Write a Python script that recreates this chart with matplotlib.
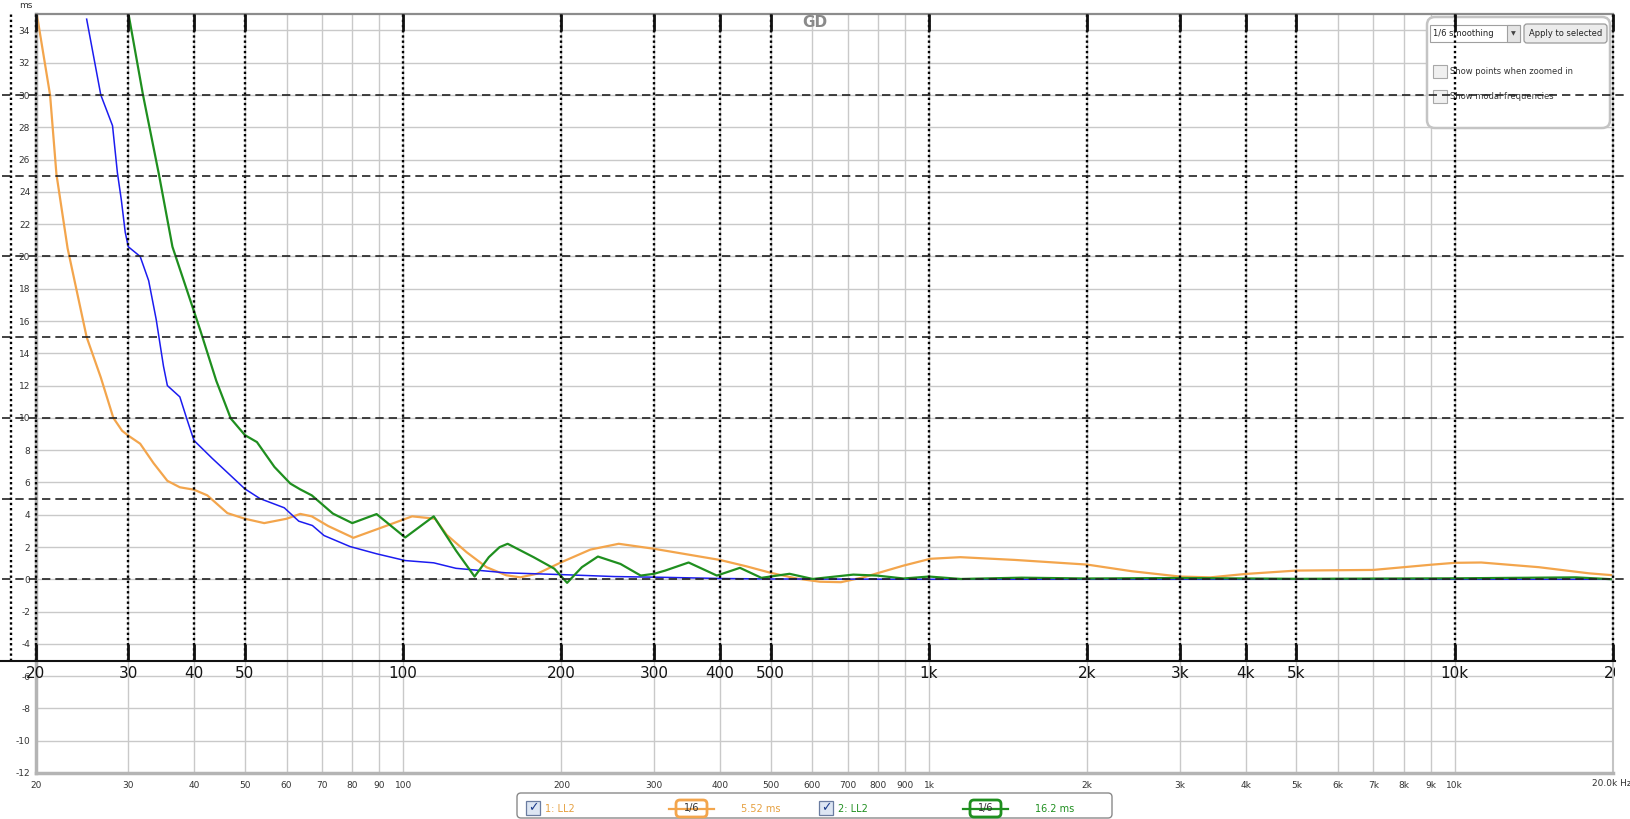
import numpy as np
import matplotlib.pyplot as plt
from matplotlib.patches import FancyBboxPatch, Rectangle
from matplotlib.transforms import Affine2D, Bbox
from matplotlib.ticker import NullLocator

# ---- data (frequency in Hz, group delay in ms) ----
orange_f = [20, 20.1, 21.3, 21.9, 23.0, 25.0, 26.6, 28.1, 29.2, 30.0, 31.6, 33.5, 35.6, 37.6,
            40, 42.4, 46.3, 50, 54.4, 60, 63.7, 67, 72, 80.4, 90, 104, 115, 121, 132, 144, 157,
            167, 180, 200, 227, 257, 300, 400, 450, 500, 560, 620, 680, 750, 895, 1006,
            1147, 1456, 2000, 2430, 3000, 3430, 4000, 5000, 7000, 9000, 10000, 11230,
            14450, 18000, 20000]
orange_ms = [36.5, 35.0, 30.0, 25.1, 20.5, 15.0, 12.5, 10.0, 9.2, 8.9, 8.4, 7.2, 6.1, 5.7,
             5.55, 5.2, 4.1, 3.75, 3.48, 3.75, 4.05, 3.9, 3.3, 2.57, 3.15, 3.9, 3.75, 2.75, 1.68, 0.75,
             0.25, 0.12, 0.35, 1.06, 1.84, 2.2, 1.89, 1.2, 0.8, 0.4, 0.05, -0.15, -0.18, 0.12, 0.85,
             1.27, 1.37, 1.2, 0.91, 0.5, 0.17, 0.12, 0.33, 0.54, 0.58, 0.9, 1.02, 1.04,
             0.75, 0.37, 0.25]

blue_f = [25.0, 26.6, 28.0, 28.6, 29.1, 29.6, 30.0, 31.6, 32.8, 33.9, 35.0, 35.6, 37.6, 38.8,
          40.0, 43.3, 50.0, 53.4, 59.4, 63.3, 67.2, 70.7, 79.2, 89.0, 100.9, 114.3, 126, 157,
          200, 252, 315, 400, 500, 1000, 2000, 5000, 10000, 20000]
blue_ms = [34.7, 30.0, 28.1, 25.2, 23.5, 21.5, 20.6, 20.0, 18.5, 16.1, 13.2, 12.0, 11.3, 9.9,
           8.6, 7.5, 5.6, 5.0, 4.43, 3.6, 3.33, 2.71, 2.03, 1.58, 1.16, 1.02, 0.68, 0.40,
           0.29, 0.17, 0.12, 0.05, 0.02, 0.0, 0.0, 0.0, 0.0, 0.0]

green_f = [30.0, 32.0, 34.3, 36.4, 41.1, 44.1, 47.0, 50.0, 52.7, 56.9, 61.0, 63.7, 67, 73.5,
           80.0, 89.0, 100.9, 114.3, 126, 136.7, 145.5, 152.5, 158, 177, 193.8, 205, 218.7,
           234.6, 259, 283, 300, 315, 349, 395, 437, 480, 543, 601, 718, 796, 895, 1000,
           1150, 1500, 2000, 3000, 5000, 10000, 17000, 20000]
green_ms = [35.1, 30.0, 25.1, 20.6, 15.45, 12.3, 9.96, 8.93, 8.5, 6.96, 5.93, 5.57, 5.2, 4.07,
            3.48, 4.04, 2.59, 3.9, 1.78, 0.17, 1.37, 1.99, 2.2, 1.37, 0.66, -0.22, 0.75,
            1.41, 0.95, 0.23, 0.34, 0.54, 1.04, 0.23, 0.71, 0.09, 0.34, 0.02, 0.29, 0.23, 0.05, 0.17,
            0.02, 0.1, 0.05, 0.08, 0.03, 0.06, 0.12, 0.0]

rew_xticks = [20, 30, 40, 50, 60, 70, 80, 90, 100, 200, 300, 400, 500, 600, 700, 800, 900,
              1000, 2000, 3000, 4000, 5000, 6000, 7000, 8000, 9000, 10000, 20000]
rew_xlabels = ["20", "30", "40", "50", "60", "70", "80", "90", "100", "200", "300", "400",
               "500", "600", "700", "800", "900", "1k", "2k", "3k", "4k", "5k", "6k", "7k",
               "8k", "9k", "10k", ""]
rew_yticks = list(range(-12, 35, 2))

ov_xticks = [20, 30, 40, 50, 100, 200, 300, 400, 500, 1000, 2000, 3000, 4000, 5000, 10000, 20000]
ov_xlabels = ["20", "30", "40", "50", "100", "200", "300", "400", "500", "1k", "2k", "3k",
              "4k", "5k", "10k", "20"]
ov_levels = [0, 5, 10, 15, 20, 25, 30]

# ---- layout (pixels, top-left origin) ----
W, H = 1630, 819
AX_L, AX_R, AX_T, AX_B = 35.7, 1613, 14.3, 773
Y_MIN, Y_MAX = -12, 35
F_MIN, F_MAX = 20, 20000
OV_L, OV_R, OV_B = 0, 1615, 661

ORANGE = "#f3a54c"
BLUE = "#1c1cf0"
GREEN = "#1f8f1f"

fig = plt.figure(figsize=(W / 100, H / 100), dpi=100, facecolor="white")
PX = Affine2D().scale(1 / W, -1 / H).translate(0, 1) + fig.transFigure

# ---- REW graph ----
ax = fig.add_axes([AX_L / W, 1 - AX_B / H, (AX_R - AX_L) / W, (AX_B - AX_T) / H])
ax.set_xscale("log")
ax.set_xlim(F_MIN, F_MAX)
ax.set_ylim(Y_MIN, Y_MAX)
ax.set_xticks(rew_xticks)
ax.set_xticklabels(rew_xlabels)
ax.xaxis.set_minor_locator(NullLocator())
ax.set_yticks(rew_yticks)
ax.set_yticklabels([str(v) for v in rew_yticks])
ax.grid(True, color="#c9c9c9", lw=1)
ax.set_axisbelow(True)
ax.tick_params(length=0, labelsize=6.5, labelcolor="#333333")
ax.tick_params(axis="y", pad=4)
ax.tick_params(axis="x", pad=6)
ax.spines["left"].set(color="#b4b4b4", lw=2.5)
ax.spines["bottom"].set(color="#b4b4b4", lw=2.5)
ax.spines["top"].set(color="#8c8c8c", lw=1.6)
ax.spines["right"].set(color="#c4c4c4", lw=1.5)
ax.annotate("20.0k Hz", xy=(F_MAX, 0), xycoords=("data", "axes fraction"),
            xytext=(-21, -10), textcoords="offset pixels", ha="left", va="center",
            fontsize=6.5, color="#333333", annotation_clip=False)

ax.plot(orange_f, orange_ms, color=ORANGE, lw=1.6, solid_joinstyle="round")
ax.plot(blue_f, blue_ms, color=BLUE, lw=1.1, solid_joinstyle="round")
ax.plot(green_f, green_ms, color=GREEN, lw=1.6, solid_joinstyle="round")

fig.text(26, 6, "ms", transform=PX, fontsize=6.5, color="#333333", ha="center", va="center")
fig.text(815, 22.5, "GD", transform=PX, fontsize=11, weight="bold", color="#8a8a8a",
         ha="center", va="center")

# ---- overlay axis drawn over the graph ----
dec = (AX_R - AX_L) / np.log10(F_MAX / F_MIN)
ms_per_px = (Y_MAX - Y_MIN) / (AX_B - AX_T)
ov = fig.add_axes([OV_L / W, 1 - OV_B / H, (OV_R - OV_L) / W, (OV_B - AX_T) / H])
ov.set_zorder(5)
ov.patch.set_alpha(0)
ov.set_xscale("log")
ov.set_xlim(F_MIN * 10 ** ((OV_L - AX_L) / dec), F_MIN * 10 ** ((OV_R - AX_L) / dec))
ov.set_ylim(Y_MAX - (OV_B - AX_T) * ms_per_px, Y_MAX)
ov.set_xticks(ov_xticks)
ov.set_xticklabels([])
ov.xaxis.set_minor_locator(NullLocator())
ov.set_yticks([])
for s in ("top", "left", "right"):
    ov.spines[s].set_visible(False)
ov.spines["bottom"].set(color="#111111", lw=1.5)
ov.tick_params(axis="x", direction="in", top=True, length=12, width=2, color="#111111")
ov.grid(True, axis="x", color="black", lw=1.7, linestyle=(0, (1, 1.2)))
for lv in ov_levels:
    ov.axhline(lv, xmin=2 / OV_R, xmax=1627 / OV_R, color="#222222", lw=1.2,
               linestyle=(0, (5, 3)), clip_on=False)
ov.plot([11 / OV_R, 11 / OV_R], [0, 1], transform=ov.transAxes, color="black", lw=1.7,
        linestyle=(0, (1, 1.2)))
clip = Bbox.from_extents(0, 0, OV_R, H)
for f, lab in zip(ov_xticks, ov_xlabels):
    t = ov.annotate(lab, xy=(f, 0), xycoords=("data", "axes fraction"), xytext=(0, -12),
                    textcoords="offset pixels", ha="center", va="center", fontsize=11,
                    color="#151515", annotation_clip=False)
    t.set_clip_box(clip)
    t.set_clip_on(True)

# ---- top-right control panel ----
fig.patches.append(FancyBboxPatch((1427, 17), 183, 111, boxstyle="round,pad=0,rounding_size=8",
                                  transform=PX, fc="white", ec="#c4c4c4", lw=1.8))
fig.patches.append(Rectangle((1430, 25), 90, 17, transform=PX, fc="white", ec="#a0a0a0", lw=0.8))
fig.patches.append(Rectangle((1507, 25), 13, 17, transform=PX, fc="#e4e4e4", ec="#a0a0a0", lw=0.8))
fig.text(1513.5, 33.5, "▼", transform=PX, fontsize=4.5, color="#444444", ha="center", va="center")
fig.text(1433, 33.5, "1/6 smoothing", transform=PX, fontsize=6, color="#222222", va="center")
fig.patches.append(FancyBboxPatch((1524, 24), 83, 19, boxstyle="round,pad=0,rounding_size=3",
                                  transform=PX, fc="#ececec", ec="#9a9a9a", lw=0.9))
fig.text(1565.5, 33.5, "Apply to selected", transform=PX, fontsize=6, color="#222222",
         ha="center", va="center")
for yy, lab in [(65, "Show points when zoomed in"), (90, "Show modal frequencies")]:
    fig.patches.append(Rectangle((1433, yy), 14, 13, transform=PX, fc="#f0f0f0", ec="#a8a8a8", lw=0.8))
    fig.text(1450, yy + 6.5, lab, transform=PX, fontsize=6, color="#333333", va="center")

# ---- bottom legend ----
fig.patches.append(FancyBboxPatch((517, 793), 595, 25, boxstyle="round,pad=0,rounding_size=4",
                                  transform=PX, fc="white", ec="#8a8a8a", lw=1))
items = [(526, "1: LL2", 676, "5.52 ms", ORANGE, "#e6a040"),
         (819, "2: LL2", 970, "16.2 ms", GREEN, GREEN)]
for cx, name, px0, val, col, tcol in items:
    fig.patches.append(Rectangle((cx, 801), 14, 14, transform=PX, fc="#dde6f3", ec="#6a7ca0", lw=0.9))
    fig.text(cx + 7.5, 807.5, "✓", transform=PX, fontsize=9, weight="bold", color="#1c3c8c",
             ha="center", va="center")
    fig.text(cx + 19, 808.5, name, transform=PX, fontsize=7, color=tcol, va="center")
    fig.lines.append(plt.Line2D([px0 - 7, px0 + 38], [808.5, 808.5], transform=PX, color=col, lw=1.6))
    fig.patches.append(FancyBboxPatch((px0, 800), 31, 17, boxstyle="round,pad=0,rounding_size=4",
                                      transform=PX, fc="white", ec=col, lw=2))
    fig.text(px0 + 15.5, 808.5, "1/6", transform=PX, fontsize=7, color="#333333",
             ha="center", va="center")
    fig.text(px0 + 65, 808.5, val, transform=PX, fontsize=7, color=tcol, va="center")

fig.savefig("out.png", dpi=100, facecolor="white")
